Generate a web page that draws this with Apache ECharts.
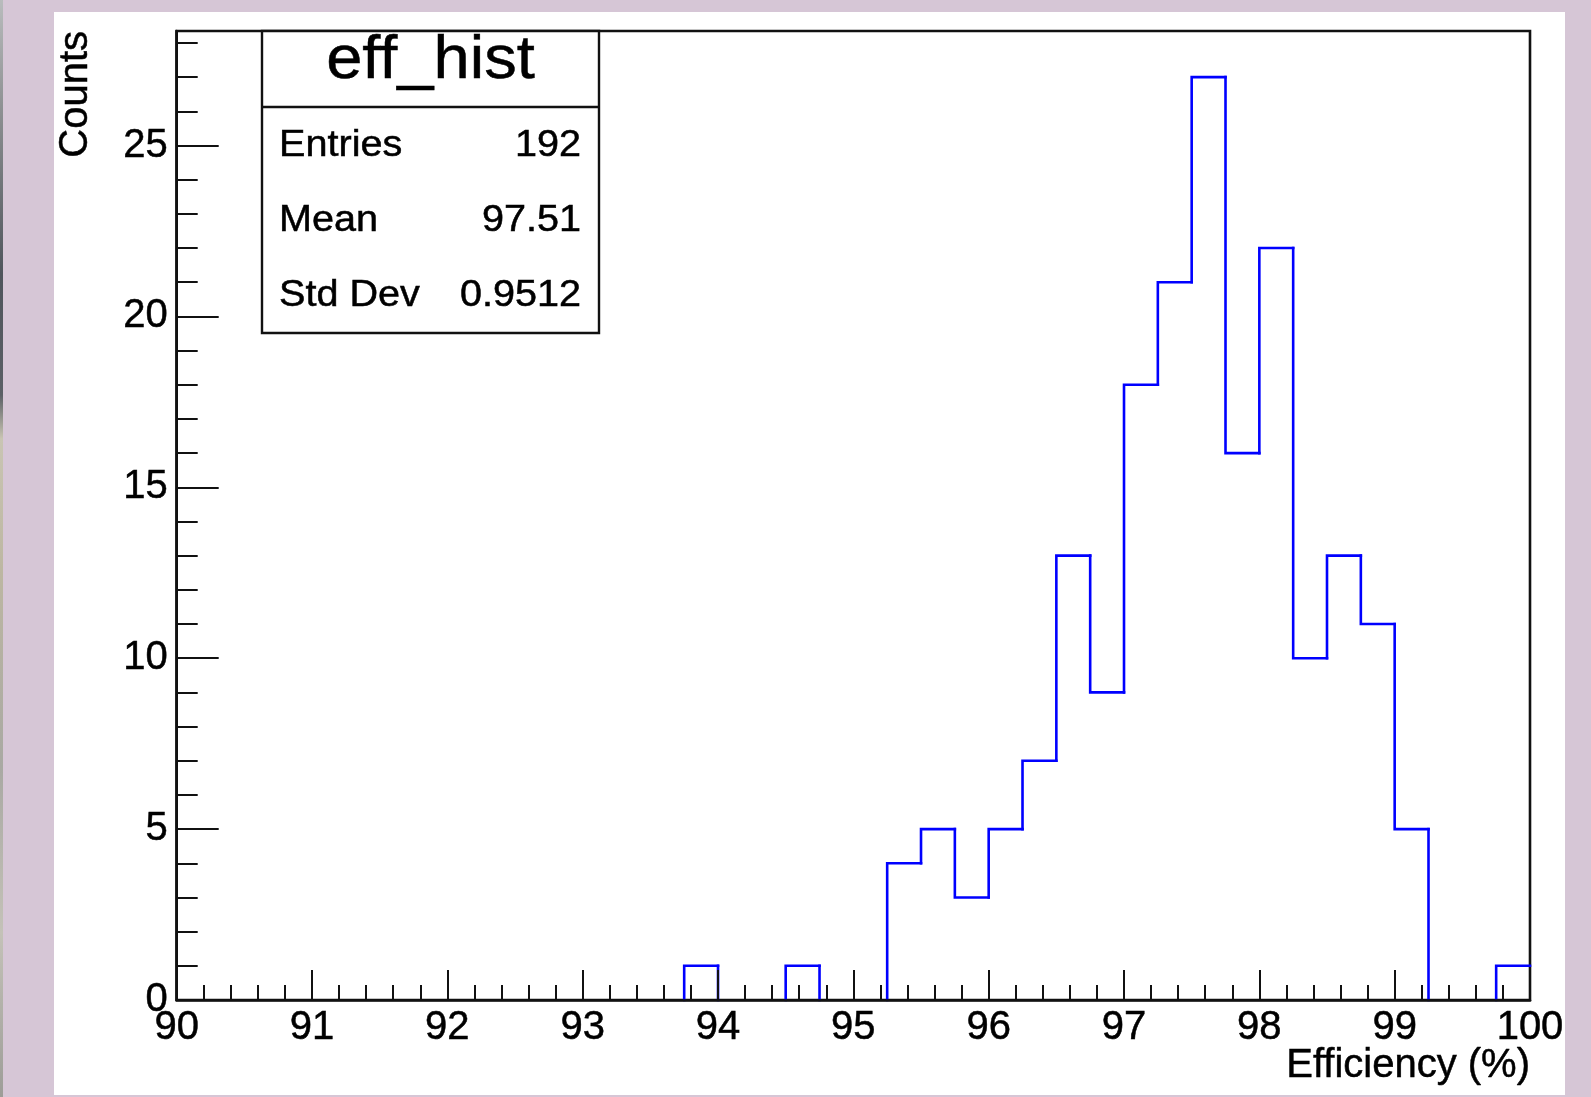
<!DOCTYPE html>
<html>
<head>
<meta charset="utf-8">
<title>eff_hist</title>
<script src="https://cdn.jsdelivr.net/npm/echarts@6/dist/echarts.min.js"></script>
<style>
  html, body { margin: 0; padding: 0; width: 1591px; height: 1097px; overflow: hidden; background: #d6c6d6; }
  #strip { position: absolute; left: 0; top: 0; width: 3px; height: 1097px;
    background: linear-gradient(to bottom, #b9bcbd 0%, #8d9092 10%, #4f555c 25%, #5b6066 36%, #c9c5b3 40%, #bdb7a2 52%, #a9a9a3 70%, #c4c2b8 85%, #9d9d98 100%); }
  #paper { position: absolute; left: 54px; top: 12px; width: 1511px; height: 1083px; background: #ffffff; }
  #chart { position: absolute; left: 0; top: 0; width: 1591px; height: 1097px; }
</style>
</head>
<body>
<div id="strip"></div>
<div id="paper"></div>
<div id="chart"></div>
<script>
// ---- data ----
const histTitle = 'eff_hist';
const histMin = 90;
const histMax = 100;
const binWidth = 0.25;
// counts per bin, bins of width 0.25 from 90 to 100 (40 bins)
const counts = [
  0, 0, 0, 0, 0, 0, 0, 0, 0, 0,
  0, 0, 0, 0, 0, 1, 0, 0, 1, 0,
  0, 4, 5, 3, 5, 7, 13, 9, 18, 21,
  27, 16, 22, 10, 13, 11, 5, 0, 0, 1
];
const yMax = 28.35;
const xTickInterval = 1;
const yTickInterval = 5;
const xAxisTitle = 'Efficiency (%)';
const yAxisTitle = 'Counts';
const statNames = ['Entries', 'Mean', 'Std Dev'];
const statValues = ['192', '97.51', '0.9512'];

// ---- per-bin records: [low edge, high edge, count, previous bin count] ----
const binData = counts.map((c, i) => [
  histMin + i * binWidth,
  histMin + (i + 1) * binWidth,
  c,
  i > 0 ? counts[i - 1] : 0
]);

const FONT = '"Liberation Sans", Arimo, Helvetica, Arial, sans-serif';
const INK = '#111111';
const HIST_COLOR = '#0000ff';
const TXT_BORDER = { textBorderColor: '#000', textBorderWidth: 0.5 };

const chart = echarts.init(document.getElementById('chart'), null, { renderer: 'canvas' });

// stats box graphic
const box = { left: 262, top: 31, right: 599, sep: 107, bottom: 333 };
const statChildren = [
  { type: 'rect', shape: { x: box.left, y: box.top, width: box.right - box.left, height: box.bottom - box.top },
    style: { fill: '#ffffff', stroke: INK, lineWidth: 2.4 } },
  { type: 'line', shape: { x1: box.left, y1: box.sep, x2: box.right, y2: box.sep },
    style: { stroke: INK, lineWidth: 2.4 } },
  { type: 'text', x: (box.left + box.right) / 2, y: 61, scaleX: 1.05,
    style: { text: histTitle, fill: '#000', stroke: '#000', lineWidth: 0.5, font: '62px ' + FONT, textAlign: 'center', textVerticalAlign: 'middle' } }
];
statNames.forEach((name, i) => {
  const cy = 146 + i * 75;
  statChildren.push({ type: 'text', x: 279, y: cy, scaleX: 1.1,
    style: { text: name, fill: '#000', stroke: '#000', lineWidth: 0.5, font: '36px ' + FONT, textAlign: 'left', textVerticalAlign: 'middle' } });
  statChildren.push({ type: 'text', x: 581, y: cy, scaleX: 1.1,
    style: { text: statValues[i], fill: '#000', stroke: '#000', lineWidth: 0.5, font: '36px ' + FONT, textAlign: 'right', textVerticalAlign: 'middle' } });
});

function renderBin(params, api) {
  const lo = api.value(0), hi = api.value(1), c = api.value(2), p = api.value(3);
  const pPrev = api.coord([lo, p]);
  const pLo = api.coord([lo, c]);
  const pHi = api.coord([hi, c]);
  const pts = [];
  if (c !== p) { pts.push(pPrev); pts.push(pLo); }
  if (c > 0) {
    if (!pts.length) pts.push(pLo);
    pts.push(pHi);
  }
  if (pts.length < 2) return { type: 'group', children: [] };
  return {
    type: 'polyline',
    shape: { points: pts },
    style: { stroke: HIST_COLOR, lineWidth: 2.6, fill: null, lineCap: 'square', lineJoin: 'miter' }
  };
}

const option = {
  animation: false,
  backgroundColor: 'transparent',
  grid: {
    left: 176.7, right: 61, top: 31, bottom: 97,
    show: true, borderColor: INK, borderWidth: 2.6, backgroundColor: 'transparent',
    containLabel: false
  },
  xAxis: {
    type: 'value', min: histMin, max: histMax, interval: xTickInterval,
    zlevel: 1, z: 5,
    name: xAxisTitle, nameLocation: 'end', nameGap: 0, nameMoveOverlap: false,
    nameTextStyle: Object.assign({ fontFamily: FONT, fontSize: 40, color: '#000', align: 'right', verticalAlign: 'top', padding: [46, 0, 0, 0] }, TXT_BORDER),
    axisLine: { show: true, onZero: false, lineStyle: { color: INK, width: 2.6 } },
    axisTick: { show: true, inside: true, length: 30, lineStyle: { color: INK, width: 2 } },
    minorTick: { show: true, splitNumber: 5, length: 15, lineStyle: { color: INK, width: 2 } },
    axisLabel: Object.assign({ show: true, margin: 8, fontFamily: FONT, fontSize: 40, color: '#000', hideOverlap: false }, TXT_BORDER),
    splitLine: { show: false },
    minorSplitLine: { show: false }
  },
  yAxis: {
    type: 'value', min: 0, max: yMax, interval: yTickInterval,
    zlevel: 1, z: 5,
    name: yAxisTitle, nameLocation: 'end', nameGap: 0, nameRotate: 90, nameMoveOverlap: false,
    nameTextStyle: Object.assign({ fontFamily: FONT, fontSize: 40, color: '#000', align: 'right', verticalAlign: 'bottom', padding: [0, 0, 81, 0] }, TXT_BORDER),
    axisLine: { show: true, onZero: false, lineStyle: { color: INK, width: 2.6 } },
    axisTick: { show: true, inside: true, length: 42, lineStyle: { color: INK, width: 2 } },
    minorTick: { show: true, splitNumber: 5, length: 21, lineStyle: { color: INK, width: 2 } },
    axisLabel: Object.assign({ show: true, margin: 9, fontFamily: FONT, fontSize: 40, color: '#000', showMaxLabel: false, hideOverlap: false }, TXT_BORDER),
    splitLine: { show: false },
    minorSplitLine: { show: false }
  },
  series: [{
    type: 'custom',
    name: histTitle,
    data: binData,
    encode: { x: [0, 1], y: [2, 3] },
    renderItem: renderBin,
    clip: false,
    zlevel: 0,
    z: 2
  }],
  graphic: [{ type: 'group', zlevel: 2, z: 10, children: statChildren }]
};
chart.setOption(option);
</script>
</body>
</html>
